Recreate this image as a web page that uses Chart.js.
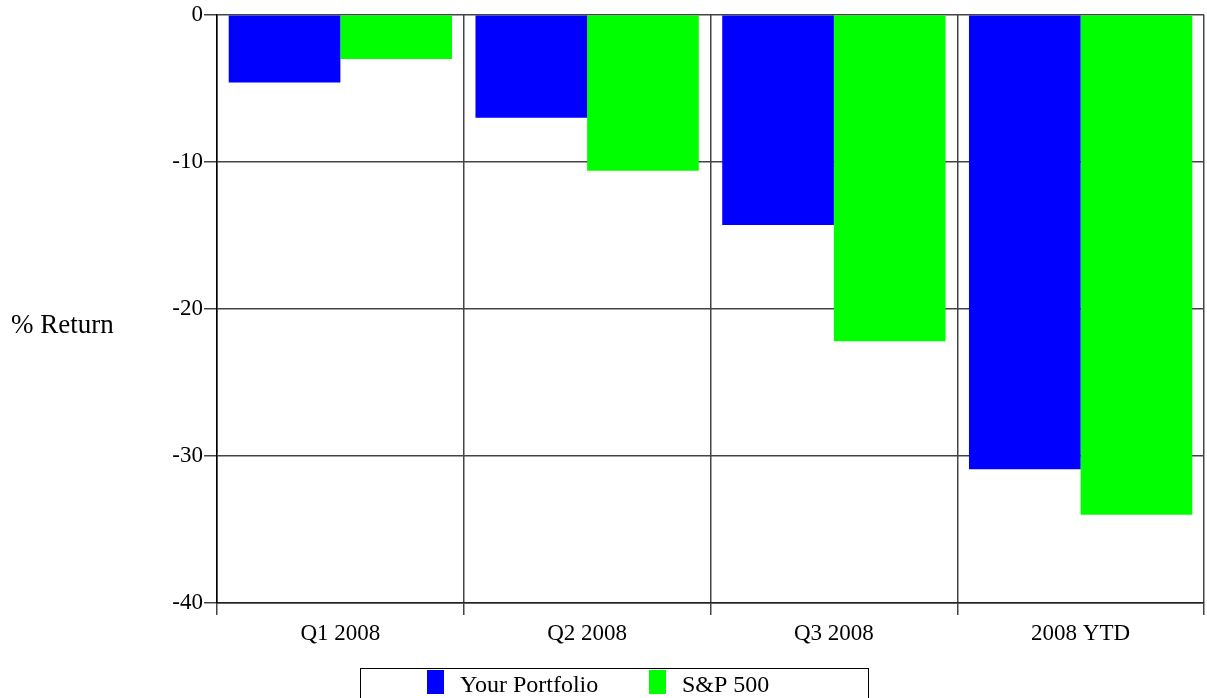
<!DOCTYPE html>
<html>
<head>
<meta charset="utf-8">
<script src="https://cdn.jsdelivr.net/npm/chart.js@4.4.0/dist/chart.umd.min.js"></script>
<style>
html,body{margin:0;padding:0;background:#fff;}
#wrap{width:1207px;height:698px;position:relative;}
</style>
</head>
<body>
<div id="wrap"><canvas id="c" width="1207" height="698"></canvas></div>
<script>
const categories = ['Q1 2008', 'Q2 2008', 'Q3 2008', '2008 YTD'];
const portfolioValues = [-4.6, -7.0, -14.3, -30.9];
const sp500Values = [-3.0, -10.6, -22.2, -34.0];
const seriesNames = ['Your Portfolio', 'S&P 500'];
const seriesColors = ['#0000ff', '#00ff00'];
const yTitle = '% Return';
const yMin = -40, yMax = 0, yStep = 10;

const FONT = '"Liberation Serif", "Times New Roman", serif';

const customDraw = {
  id: 'customDraw',
  afterDraw(chart) {
    const ctx = chart.ctx;
    const ca = chart.chartArea;
    ctx.save();
    // Y axis title (horizontal)
    ctx.fillStyle = '#000';
    ctx.font = '27px ' + FONT;
    ctx.textAlign = 'left';
    ctx.textBaseline = 'alphabetic';
    ctx.fillText(yTitle, 11, (ca.top + ca.bottom) / 2 + 24);
    // Legend box
    const lx = 360, ly = 668, lw = 508, lh = 40;
    ctx.strokeStyle = '#000';
    ctx.lineWidth = 1;
    ctx.strokeRect(lx + 0.5, ly + 0.5, lw, lh);
    const items = chart.data.datasets;
    const itemX = [427, 649];
    ctx.font = '24px ' + FONT;
    items.forEach((ds, i) => {
      ctx.fillStyle = ds.backgroundColor;
      ctx.fillRect(itemX[i], 670, 17, 24);
      ctx.fillStyle = '#000';
      ctx.fillText(ds.label, itemX[i] + 33, 692);
    });
    ctx.restore();
  }
};

new Chart(document.getElementById('c'), {
  type: 'bar',
  data: {
    labels: categories,
    datasets: [
      { label: seriesNames[0], data: portfolioValues, backgroundColor: seriesColors[0], borderWidth: 0 },
      { label: seriesNames[1], data: sp500Values, backgroundColor: seriesColors[1], borderWidth: 0 }
    ]
  },
  plugins: [customDraw],
  options: {
    responsive: false,
    animation: false,
    devicePixelRatio: 1,
    layout: { padding: { left: 0, top: 13, right: 3, bottom: 0 } },
    datasets: { bar: { categoryPercentage: 0.905, barPercentage: 1.0 } },
    plugins: { legend: { display: false }, tooltip: { enabled: false } },
    scales: {
      x: {
        grid: { offset: true, color: '#444', lineWidth: 1.5, tickLength: 12, tickColor: '#444', drawOnChartArea: true },
        border: { color: '#222', width: 1.5 },
        ticks: { color: '#000', font: { family: FONT, size: 23 }, padding: 5 },
        afterFit(scale) { scale.height = 95; }
      },
      y: {
        min: yMin, max: yMax,
        grid: { color: '#444', lineWidth: 1.5, tickLength: 13, tickColor: '#444' },
        border: { color: '#000', width: 1.5 },
        ticks: { stepSize: yStep, color: '#000', font: { family: FONT, size: 23 }, padding: 1 },
        afterFit(scale) { scale.width = 217; }
      }
    }
  }
});
</script>
</body>
</html>
